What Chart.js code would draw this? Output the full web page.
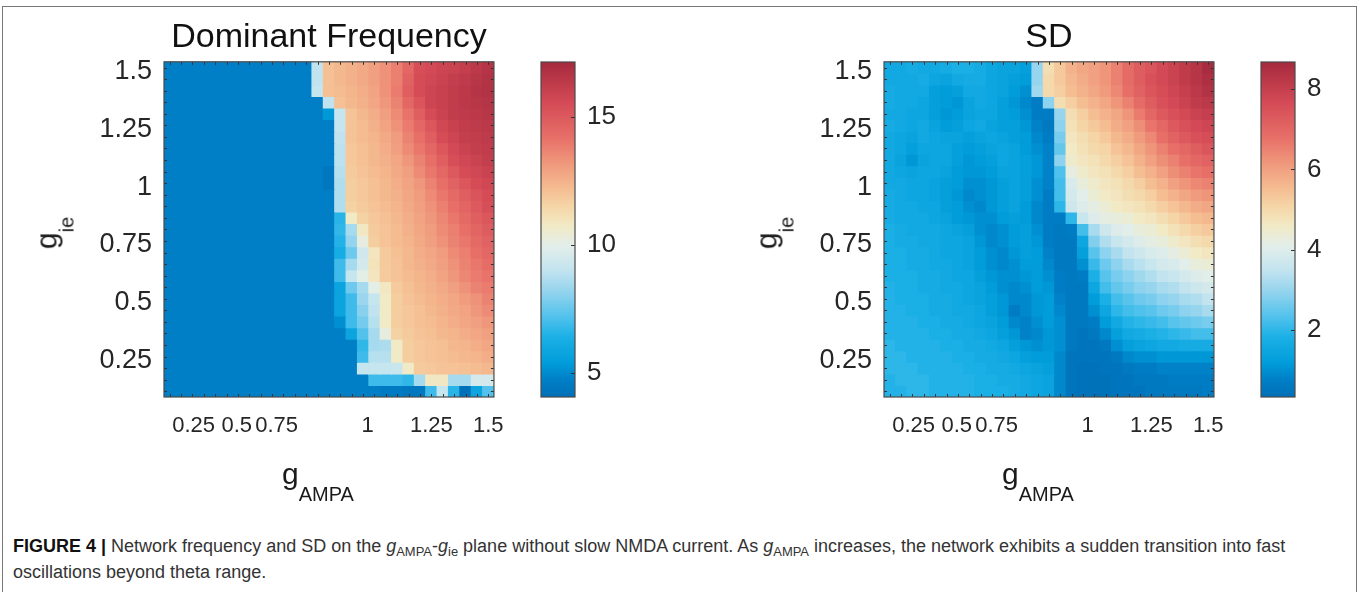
<!DOCTYPE html>
<html>
<head>
<meta charset="utf-8">
<script src="https://cdn.jsdelivr.net/npm/chart.js@4.4.1/dist/chart.umd.min.js"></script>
<style>
  html, body { margin: 0; padding: 0; }
  body { width: 1360px; height: 592px; overflow: hidden; background: #fff; position: relative;
         font-family: 'Liberation Sans', Arial, Helvetica, sans-serif; color: #222; }
  canvas { position: absolute; top: 0; }
  .frame { position: absolute; left: 2px; top: 6px; width: 1355px; height: 640px; border: 1px solid #777; box-sizing: border-box; }
  .xt { position: absolute; white-space: nowrap; font-size: 30px; line-height: 30px; color: #1a1a1a; }
  .xt span { font-size: 20px; position: relative; top: 17px; }
  .yt { position: absolute; white-space: nowrap; font-size: 30px; line-height: 30px; color: #1a1a1a;
        transform: translate(-50%, -50%) rotate(-90deg); }
  .yt span { font-size: 20px; position: relative; top: 17px; }
  .cap { position: absolute; left: 13px; top: 533px; font-size: 18px; line-height: 26px; color: #333; white-space: nowrap; }
  .cap b { color: #111; }
  .cap sub { font-size: 0.72em; line-height: 0; vertical-align: -0.28em; }
</style>
</head>
<body>
<div class="frame"></div>

<canvas id="heatFreq" width="520" height="460" style="left:0px"></canvas>
<canvas id="barFreq" width="110" height="460" style="left:520px"></canvas>
<canvas id="heatSD" width="520" height="460" style="left:720px"></canvas>
<canvas id="barSD" width="110" height="460" style="left:1240px"></canvas>

<div class="yt" style="left:48px; top:233px;">g<span>ie</span></div>
<div class="xt" style="left:282px; top:459px;">g<span>AMPA</span></div>
<div class="yt" style="left:768px; top:233px;">g<span>ie</span></div>
<div class="xt" style="left:1002px; top:459px;">g<span>AMPA</span></div>

<div class="cap"><b>FIGURE 4 |</b> Network frequency and SD on the <i>g</i><sub>AMPA</sub>-<i>g</i><sub>ie</sub> plane without slow NMDA current. As <i>g</i><sub>AMPA</sub> increases, the network exhibits a sudden transition into fast<br>oscillations beyond theta range.</div>

<script>
// ---------------- DATA ----------------
// g_AMPA values (columns, left to right)
const gAMPA = [0.1,0.15,0.2,0.25,0.3,0.35,0.4,0.45,0.5,0.55,0.6,0.65,0.7,0.75,0.8,0.85,0.9,0.95,1,1.05,1.1,1.15,1.2,1.25,1.3,1.35,1.4,1.45,1.5];
// g_ie values (rows, top to bottom)
const gie = [1.5,1.45,1.4,1.35,1.3,1.25,1.2,1.15,1.1,1.05,1,0.95,0.9,0.85,0.8,0.75,0.7,0.65,0.6,0.55,0.5,0.45,0.4,0.35,0.3,0.25,0.2,0.15,0.1];

// tick labels
const yTickAt = [0.25, 0.5, 0.75, 1, 1.25, 1.5];
const yTickText = ['0.25', '0.5', '0.75', '1', '1.25', '1.5'];
const xTickAt = [0.205, 0.395, 0.57, 0.97, 1.25, 1.5];
const xTickText = ['0.25', '0.5', '0.75', '1', '1.25', '1.5'];
const freqBarTicks = [5, 10, 15];
const sdBarTicks = [2, 4, 6, 8];
const freqRange = [4.05, 17.15];
const sdRange = [0.34, 8.67];

// Dominant frequency, one row per g_ie (top row = 1.5)
const freqRows = [
  [4.7,4.7,4.7,4.7,4.7,4.7,4.7,4.7,4.7,4.7,4.7,4.7,4.7,9.0,12.1,12.3,12.5,12.7,13.0,13.3,13.8,14.5,15.4,15.6,15.8,15.9,16.1,16.4,16.6],
  [4.7,4.7,4.7,4.7,4.7,4.7,4.7,4.7,4.7,4.7,4.7,4.7,4.7,9.0,12.1,12.3,12.5,12.7,13.0,13.3,13.8,14.7,15.5,15.7,15.9,16.1,16.3,16.5,16.7],
  [4.7,4.7,4.7,4.7,4.7,4.7,4.7,4.7,4.7,4.7,4.7,4.7,4.7,9.1,12.1,12.2,12.4,12.6,12.9,13.3,13.9,14.8,15.5,15.8,16.0,16.2,16.4,16.6,16.7],
  [4.7,4.7,4.7,4.7,4.7,4.7,4.7,4.7,4.7,4.7,4.7,4.7,4.7,4.7,9.0,12.1,12.3,12.5,12.8,13.2,13.7,14.5,15.2,15.8,16.0,16.2,16.4,16.5,16.6],
  [4.7,4.7,4.7,4.7,4.7,4.7,4.7,4.7,4.7,4.7,4.7,4.7,4.7,4.7,5.3,9.1,12.0,12.3,12.6,13.0,13.5,14.1,14.8,15.5,15.9,16.2,16.3,16.4,16.5],
  [4.7,4.7,4.7,4.7,4.7,4.7,4.7,4.7,4.7,4.7,4.7,4.7,4.7,4.7,4.7,9.1,12.0,12.2,12.5,12.9,13.3,13.9,14.5,15.1,15.7,16.0,16.2,16.3,16.4],
  [4.7,4.7,4.7,4.7,4.7,4.7,4.7,4.7,4.7,4.7,4.7,4.7,4.7,4.7,4.7,9.0,12.0,12.2,12.4,12.7,13.1,13.7,14.2,14.8,15.5,15.8,16.1,16.2,16.3],
  [4.7,4.7,4.7,4.7,4.7,4.7,4.7,4.7,4.7,4.7,4.7,4.7,4.7,4.7,4.7,8.9,11.9,12.1,12.3,12.6,13.0,13.5,14.0,14.5,15.1,15.6,15.9,16.1,16.2],
  [4.7,4.7,4.7,4.7,4.7,4.7,4.7,4.7,4.7,4.7,4.7,4.7,4.7,4.7,4.7,8.9,11.9,12.1,12.3,12.5,12.8,13.2,13.7,14.2,14.8,15.4,15.7,15.9,16.1],
  [4.7,4.7,4.7,4.7,4.7,4.7,4.7,4.7,4.7,4.7,4.7,4.7,4.7,4.7,4.4,8.8,11.8,12.0,12.2,12.4,12.7,13.0,13.5,14.0,14.5,15.0,15.5,15.7,15.9],
  [4.7,4.7,4.7,4.7,4.7,4.7,4.7,4.7,4.7,4.7,4.7,4.7,4.7,4.7,4.4,8.7,11.7,11.9,12.1,12.3,12.6,12.9,13.2,13.7,14.2,14.7,15.1,15.5,15.7],
  [4.7,4.7,4.7,4.7,4.7,4.7,4.7,4.7,4.7,4.7,4.7,4.7,4.7,4.7,4.7,8.7,11.7,11.9,12.1,12.3,12.5,12.8,13.1,13.5,14.0,14.4,14.8,15.2,15.5],
  [4.7,4.7,4.7,4.7,4.7,4.7,4.7,4.7,4.7,4.7,4.7,4.7,4.7,4.7,4.7,8.7,11.6,11.8,12.0,12.2,12.4,12.7,13.0,13.3,13.8,14.2,14.6,15.0,15.4],
  [4.7,4.7,4.7,4.7,4.7,4.7,4.7,4.7,4.7,4.7,4.7,4.7,4.7,4.7,4.7,6.6,10.7,11.6,11.9,12.1,12.3,12.6,12.9,13.2,13.6,14.0,14.4,14.8,15.1],
  [4.7,4.7,4.7,4.7,4.7,4.7,4.7,4.7,4.7,4.7,4.7,4.7,4.7,4.7,4.7,6.7,8.5,10.8,11.8,12.0,12.2,12.5,12.8,13.1,13.5,13.8,14.2,14.6,14.9],
  [4.7,4.7,4.7,4.7,4.7,4.7,4.7,4.7,4.7,4.7,4.7,4.7,4.7,4.7,4.7,6.5,8.2,10.2,11.7,12.0,12.2,12.4,12.7,13.0,13.3,13.7,14.0,14.4,14.7],
  [4.7,4.7,4.7,4.7,4.7,4.7,4.7,4.7,4.7,4.7,4.7,4.7,4.7,4.7,4.7,6.2,7.6,9.4,10.9,11.8,12.1,12.3,12.6,12.8,13.1,13.5,13.8,14.2,14.5],
  [4.7,4.7,4.7,4.7,4.7,4.7,4.7,4.7,4.7,4.7,4.7,4.7,4.7,4.7,4.7,6.9,8.5,9.5,11.0,11.8,12.0,12.3,12.5,12.7,13.0,13.3,13.7,14.0,14.3],
  [4.7,4.7,4.7,4.7,4.7,4.7,4.7,4.7,4.7,4.7,4.7,4.7,4.7,4.7,4.7,6.9,9.1,10.0,10.9,11.8,12.0,12.2,12.4,12.6,12.9,13.2,13.6,13.9,14.1],
  [4.7,4.7,4.7,4.7,4.7,4.7,4.7,4.7,4.7,4.7,4.7,4.7,4.7,4.7,4.7,5.8,7.6,8.5,10.0,10.8,11.8,12.1,12.3,12.5,12.7,13.0,13.3,13.7,13.9],
  [4.7,4.7,4.7,4.7,4.7,4.7,4.7,4.7,4.7,4.7,4.7,4.7,4.7,4.7,4.7,5.8,6.9,8.3,9.1,10.7,11.7,12.0,12.2,12.4,12.6,12.8,13.1,13.3,13.7],
  [4.7,4.7,4.7,4.7,4.7,4.7,4.7,4.7,4.7,4.7,4.7,4.7,4.7,4.7,4.7,5.8,6.9,8.0,9.0,10.7,11.7,11.9,12.1,12.3,12.5,12.7,12.9,13.2,13.5],
  [4.7,4.7,4.7,4.7,4.7,4.7,4.7,4.7,4.7,4.7,4.7,4.7,4.7,4.7,4.7,5.1,6.9,7.7,8.8,10.7,11.7,11.9,12.1,12.2,12.4,12.6,12.8,13.0,13.2],
  [4.7,4.7,4.7,4.7,4.7,4.7,4.7,4.7,4.7,4.7,4.7,4.7,4.7,4.7,4.7,4.7,5.8,7.2,8.5,10.2,11.6,11.8,12.0,12.1,12.3,12.4,12.6,12.8,13.0],
  [4.7,4.7,4.7,4.7,4.7,4.7,4.7,4.7,4.7,4.7,4.7,4.7,4.7,4.7,4.7,4.7,4.7,6.7,8.5,8.6,10.7,11.7,11.9,12.0,12.1,12.3,12.4,12.6,12.8],
  [4.7,4.7,4.7,4.7,4.7,4.7,4.7,4.7,4.7,4.7,4.7,4.7,4.7,4.7,4.7,4.7,4.7,6.9,8.8,8.8,10.7,11.7,11.9,12.0,12.1,12.2,12.3,12.4,12.6],
  [4.7,4.7,4.7,4.7,4.7,4.7,4.7,4.7,4.7,4.7,4.7,4.7,4.7,4.7,4.7,4.7,4.7,9.1,9.1,9.1,9.2,10.7,11.8,11.9,12.0,12.0,12.1,12.2,12.3],
  [4.7,4.7,4.7,4.7,4.7,4.7,4.7,4.7,4.7,4.7,4.7,4.7,4.7,4.7,4.7,4.7,4.7,4.7,6.9,6.9,6.9,6.7,8.5,10.8,10.8,8.5,8.5,9.5,9.5],
  [4.7,4.7,4.7,4.7,4.7,4.7,4.7,4.7,4.7,4.7,4.7,4.7,4.7,4.7,4.7,4.7,4.7,4.7,4.7,4.5,4.5,4.4,4.4,6.9,9.1,6.6,4.1,5.8,7.2]
];

// SD, one row per g_ie (top row = 1.5)
const sdRows = [
  [1.6,1.6,1.7,1.6,1.6,1.7,1.8,1.8,1.7,1.5,1.4,1.4,1.3,3.0,4.9,5.3,5.7,5.9,6.0,6.2,6.5,6.9,7.2,7.4,7.7,7.9,8.1,8.3,8.6],
  [1.6,1.6,1.6,1.7,1.5,1.4,1.6,1.7,1.7,1.5,1.4,1.3,1.2,3.0,5.0,5.3,5.6,5.8,6.0,6.2,6.5,6.9,7.2,7.5,7.7,7.9,8.1,8.3,8.5],
  [1.7,1.6,1.6,1.6,1.3,1.2,1.3,1.6,1.6,1.5,1.4,1.2,1.0,3.1,5.0,5.2,5.5,5.7,5.9,6.1,6.4,6.8,7.1,7.4,7.6,7.8,8.0,8.2,8.4],
  [1.7,1.6,1.6,1.5,1.3,1.2,1.1,1.4,1.6,1.5,1.3,1.1,0.9,0.7,2.9,4.9,5.2,5.5,5.7,5.9,6.2,6.5,6.9,7.2,7.5,7.7,7.9,8.1,8.2],
  [1.6,1.6,1.5,1.5,1.3,1.1,1.2,1.4,1.5,1.5,1.3,1.2,1.0,0.7,0.7,3.0,4.9,5.2,5.5,5.7,5.9,6.2,6.6,7.0,7.3,7.5,7.7,7.9,8.0],
  [1.7,1.6,1.5,1.6,1.4,1.2,1.3,1.5,1.6,1.4,1.3,1.3,1.1,0.8,0.6,2.9,4.8,5.1,5.3,5.5,5.8,6.0,6.3,6.7,7.0,7.3,7.5,7.7,7.8],
  [1.6,1.5,1.4,1.6,1.5,1.4,1.4,1.3,1.4,1.5,1.4,1.3,1.2,0.9,0.7,2.7,4.7,4.9,5.1,5.3,5.6,5.8,6.1,6.4,6.8,7.1,7.3,7.5,7.6],
  [1.6,1.5,1.3,1.5,1.5,1.5,1.3,1.2,1.3,1.4,1.5,1.4,1.2,1.0,0.8,2.5,4.6,4.8,5.0,5.1,5.4,5.6,5.9,6.2,6.5,6.8,7.0,7.2,7.4],
  [1.6,1.4,1.1,1.4,1.5,1.5,1.3,1.1,1.2,1.3,1.5,1.4,1.3,1.1,0.8,2.9,4.5,4.7,4.8,5.0,5.2,5.4,5.7,6.0,6.3,6.5,6.8,7.0,7.1],
  [1.6,1.5,1.4,1.5,1.5,1.4,1.2,1.1,1.1,1.2,1.4,1.4,1.3,1.1,0.8,2.3,4.2,4.5,4.7,4.8,5.0,5.2,5.5,5.7,6.0,6.3,6.5,6.7,6.8],
  [1.6,1.6,1.5,1.5,1.4,1.3,1.2,1.0,1.0,1.1,1.3,1.4,1.3,1.0,0.8,2.2,3.9,4.3,4.5,4.7,4.8,5.0,5.2,5.5,5.7,6.0,6.2,6.4,6.5],
  [1.7,1.6,1.5,1.5,1.4,1.3,1.1,0.9,1.0,1.1,1.3,1.4,1.3,1.0,0.7,2.2,3.8,4.1,4.4,4.6,4.7,4.9,5.0,5.2,5.5,5.7,5.9,6.1,6.2],
  [1.7,1.6,1.6,1.5,1.5,1.3,1.2,1.0,0.9,1.1,1.3,1.4,1.2,0.9,0.7,2.0,3.7,4.0,4.2,4.4,4.6,4.7,4.8,5.0,5.2,5.4,5.6,5.8,5.9],
  [1.7,1.6,1.6,1.6,1.5,1.4,1.2,1.1,1.0,1.0,1.2,1.3,1.2,0.9,0.7,0.7,2.0,3.6,4.0,4.2,4.3,4.4,4.6,4.7,4.9,5.1,5.3,5.5,5.6],
  [1.8,1.7,1.6,1.6,1.6,1.5,1.4,1.3,1.0,0.9,1.0,1.2,1.3,1.0,0.7,0.6,0.7,2.2,3.2,3.7,4.0,4.1,4.3,4.4,4.6,4.8,5.0,5.2,5.3],
  [1.8,1.7,1.7,1.6,1.6,1.5,1.5,1.4,1.1,0.9,1.0,1.2,1.3,1.1,0.7,0.6,0.6,1.5,2.8,3.3,3.6,3.8,4.0,4.2,4.3,4.5,4.7,4.9,5.0],
  [1.8,1.8,1.7,1.7,1.6,1.5,1.5,1.4,1.2,1.0,0.9,1.1,1.3,1.2,0.8,0.6,0.6,1.3,2.4,2.9,3.2,3.5,3.7,3.9,4.0,4.2,4.4,4.6,4.7],
  [1.8,1.8,1.7,1.7,1.6,1.6,1.5,1.4,1.2,1.0,0.9,1.0,1.2,1.2,0.9,0.6,0.6,1.0,2.1,2.6,2.9,3.2,3.4,3.6,3.8,3.9,4.1,4.3,4.4],
  [1.8,1.8,1.8,1.7,1.7,1.6,1.5,1.5,1.3,1.1,1.0,1.0,1.1,1.2,1.0,0.7,0.6,0.7,1.8,2.4,2.7,2.9,3.1,3.3,3.5,3.6,3.8,4.0,4.1],
  [1.9,1.8,1.8,1.7,1.7,1.6,1.6,1.5,1.4,1.2,1.0,0.9,1.0,1.2,1.1,0.7,0.6,0.6,1.5,2.2,2.5,2.7,2.9,3.0,3.2,3.3,3.5,3.7,3.8],
  [1.9,1.8,1.8,1.8,1.7,1.7,1.6,1.5,1.4,1.3,1.1,0.9,0.9,1.1,1.2,0.8,0.6,0.6,1.2,1.8,2.2,2.4,2.6,2.7,2.9,3.0,3.2,3.3,3.5],
  [1.9,1.9,1.8,1.8,1.7,1.7,1.6,1.6,1.5,1.3,1.1,0.7,0.9,1.1,1.2,0.9,0.6,0.6,1.0,1.5,2.0,2.2,2.3,2.4,2.6,2.7,2.9,3.0,3.2],
  [1.9,1.9,1.9,1.8,1.8,1.7,1.7,1.6,1.5,1.4,1.2,0.9,0.8,1.0,1.2,1.0,0.6,0.6,0.7,1.2,1.6,1.9,2.0,2.1,2.2,2.4,2.5,2.6,2.7],
  [1.9,1.9,1.9,1.9,1.8,1.8,1.7,1.7,1.6,1.5,1.3,1.1,0.8,0.9,1.1,1.0,0.6,0.5,0.6,0.9,1.3,1.6,1.7,1.8,1.9,2.0,2.1,2.2,2.2],
  [2.0,1.9,1.9,1.9,1.9,1.8,1.8,1.7,1.7,1.6,1.5,1.3,1.1,1.0,1.1,1.0,0.6,0.5,0.5,0.6,1.0,1.3,1.4,1.5,1.6,1.6,1.7,1.7,1.7],
  [2.0,2.0,1.9,1.9,1.9,1.9,1.8,1.8,1.7,1.7,1.6,1.5,1.3,1.2,1.2,0.9,0.5,0.5,0.5,0.5,0.6,0.9,1.0,1.0,1.1,1.1,1.1,1.1,1.1],
  [2.0,2.0,2.0,1.9,1.9,1.9,1.9,1.8,1.8,1.7,1.7,1.6,1.5,1.4,1.3,0.9,0.5,0.4,0.4,0.5,0.5,0.6,0.7,0.7,0.8,0.8,0.8,0.8,0.8],
  [1.9,2.0,2.0,2.0,1.9,1.9,1.9,1.9,1.8,1.8,1.7,1.7,1.6,1.5,1.4,0.9,0.5,0.4,0.4,0.4,0.5,0.5,0.6,0.6,0.6,0.7,0.7,0.7,0.7],
  [1.9,1.9,2.0,2.0,1.9,1.9,1.9,1.9,1.8,1.8,1.8,1.7,1.6,1.5,1.4,0.9,0.5,0.4,0.4,0.4,0.5,0.5,0.5,0.6,0.6,0.6,0.6,0.6,0.7]
];

// ---------------- STYLE ----------------
const FONT = "'Liberation Sans', Arial, Helvetica, sans-serif";
const TEXT = '#262626';
const cmapStops = [
  [0.00, '#0070B8'], [0.05, '#007EC6'], [0.10, '#009CDA'], [0.18, '#1CB0E6'],
  [0.24, '#52C2EC'], [0.32, '#98D5EE'], [0.38, '#C3E4EF'], [0.45, '#E2EEEA'],
  [0.51, '#F1EAC6'], [0.57, '#F5D5A6'], [0.62, '#F5BD92'], [0.69, '#F09C7E'],
  [0.77, '#E87169'], [0.88, '#D44A56'], [1.00, '#A52A3D']
];
function hex(c) { return [parseInt(c.slice(1,3),16), parseInt(c.slice(3,5),16), parseInt(c.slice(5,7),16)]; }
function colorFor(v, range) {
  let t = (v - range[0]) / (range[1] - range[0]);
  t = Math.max(0, Math.min(1, t));
  for (let i = 1; i < cmapStops.length; i++) {
    if (t <= cmapStops[i][0]) {
      const [t0, c0] = cmapStops[i-1], [t1, c1] = cmapStops[i];
      const f = (t - t0) / (t1 - t0), a = hex(c0), b = hex(c1);
      return `rgb(${a.map((x, k) => Math.round(x + (b[k] - x) * f)).join(',')})`;
    }
  }
  return cmapStops[cmapStops.length - 1][1];
}

const frameTicks = {
  id: 'frameTicks',
  afterDatasetsDraw(chart, args, o) {
    const { ctx, chartArea: a } = chart;
    ctx.save();
    ctx.strokeStyle = '#333';
    ctx.lineWidth = 1;
    ctx.beginPath();
    const L = 3;
    if (o.mode === 'heat') {
      const xs = chart.scales.x, ys = chart.scales.y;
      gAMPA.forEach((v, i) => {
        const p = Math.round(xs.getPixelForValue(i)) + 0.5;
        ctx.moveTo(p, a.top); ctx.lineTo(p, a.top + L);
        ctx.moveTo(p, a.bottom); ctx.lineTo(p, a.bottom - L);
      });
      gie.forEach(v => {
        const p = Math.round(ys.getPixelForValue(v)) + 0.5;
        ctx.moveTo(a.left, p); ctx.lineTo(a.left + L, p);
        ctx.moveTo(a.right, p); ctx.lineTo(a.right - L, p);
      });
    } else {
      const ys = chart.scales.y;
      ys.ticks.forEach(t => {
        const p = Math.round(ys.getPixelForValue(t.value)) + 0.5;
        ctx.moveTo(a.right, p); ctx.lineTo(a.right - 4, p);
      });
    }
    ctx.stroke();
    ctx.strokeStyle = '#4a4a4a';
    ctx.lineWidth = 1.2;
    ctx.strokeRect(a.left, a.top, a.right - a.left, a.bottom - a.top);
    ctx.restore();
  }
};

function heatmap(id, rows, range, title) {
  const halfY = Math.abs(gie[0] - gie[1]) / 2;
  const halfX = Math.abs(gAMPA[1] - gAMPA[0]) / 2;
  const datasets = rows.map((row, r) => ({
    xAxisID: 'x', yAxisID: 'y',
    data: row.map(() => [gie[r] - halfY, gie[r] + halfY]),
    backgroundColor: row.map(v => colorFor(v, range)),
    borderWidth: 0,
    inflateAmount: 0.5,
    grouped: false,
    barPercentage: 1,
    categoryPercentage: 1
  }));
  return new Chart(document.getElementById(id), {
    type: 'bar',
    data: { labels: gAMPA.map(String), datasets },
    options: {
      responsive: false,
      animation: false,
      events: [],
      layout: { padding: { left: 0, right: 24, top: 0, bottom: 0 } },
      plugins: {
        legend: { display: false },
        tooltip: { enabled: false },
        title: { display: true, text: title, fullSize: false, color: '#111',
                 font: { family: FONT, size: 34, weight: 'normal' }, padding: { top: 17, bottom: 4 } },
        frameTicks: { mode: 'heat' }
      },
      scales: {
        x: { type: 'category', display: false, offset: true },
        xv: {
          type: 'linear', position: 'bottom', offset: false,
          min: gAMPA[0] - halfX, max: gAMPA[gAMPA.length - 1] + halfX,
          grid: { display: false, drawTicks: false, offset: false }, border: { display: false },
          afterBuildTicks: s => { s.ticks = xTickAt.map(v => ({ value: v })); },
          ticks: { padding: 16, color: TEXT, autoSkip: false, maxRotation: 0,
                   font: { family: FONT, size: 22 }, callback: (v, i) => xTickText[i] },
          afterFit: s => { s.height = 63; }
        },
        y: {
          type: 'linear', position: 'left',
          min: gie[gie.length - 1] - halfY, max: gie[0] + halfY,
          grid: { display: false, drawTicks: false }, border: { display: false },
          afterBuildTicks: s => { s.ticks = yTickAt.map(v => ({ value: v })); },
          ticks: { padding: 12, color: TEXT, autoSkip: false, labelOffset: 4,
                   font: { family: FONT, size: 27 }, callback: (v, i) => yTickText[i] },
          afterFit: s => { s.width = 164; }
        }
      }
    },
    plugins: [frameTicks]
  });
}

function colorbar(id, range, ticksAt) {
  return new Chart(document.getElementById(id), {
    type: 'bar',
    data: {
      labels: [''],
      datasets: [{
        data: [[range[0], range[1]]],
        backgroundColor: c => {
          const a = c.chart.chartArea;
          if (!a) return '#888';
          const g = c.chart.ctx.createLinearGradient(0, a.bottom, 0, a.top);
          cmapStops.forEach(s => g.addColorStop(s[0], s[1]));
          return g;
        },
        borderWidth: 0, inflateAmount: 0, barPercentage: 1, categoryPercentage: 1
      }]
    },
    options: {
      responsive: false,
      animation: false,
      events: [],
      layout: { padding: { left: 21, right: 0, top: 62, bottom: 63 } },
      plugins: { legend: { display: false }, tooltip: { enabled: false }, frameTicks: { mode: 'bar' } },
      scales: {
        x: { display: false },
        y: {
          position: 'right', min: range[0], max: range[1],
          grid: { display: false, drawTicks: false }, border: { display: false },
          afterBuildTicks: s => { s.ticks = ticksAt.map(v => ({ value: v })); },
          ticks: { padding: 12, color: TEXT, font: { family: FONT, size: 26 } },
          afterFit: s => { s.width = 55; }
        }
      }
    },
    plugins: [frameTicks]
  });
}

heatmap('heatFreq', freqRows, freqRange, 'Dominant Frequency');
colorbar('barFreq', freqRange, freqBarTicks);
heatmap('heatSD', sdRows, sdRange, 'SD');
colorbar('barSD', sdRange, sdBarTicks);
</script>
</body>
</html>
